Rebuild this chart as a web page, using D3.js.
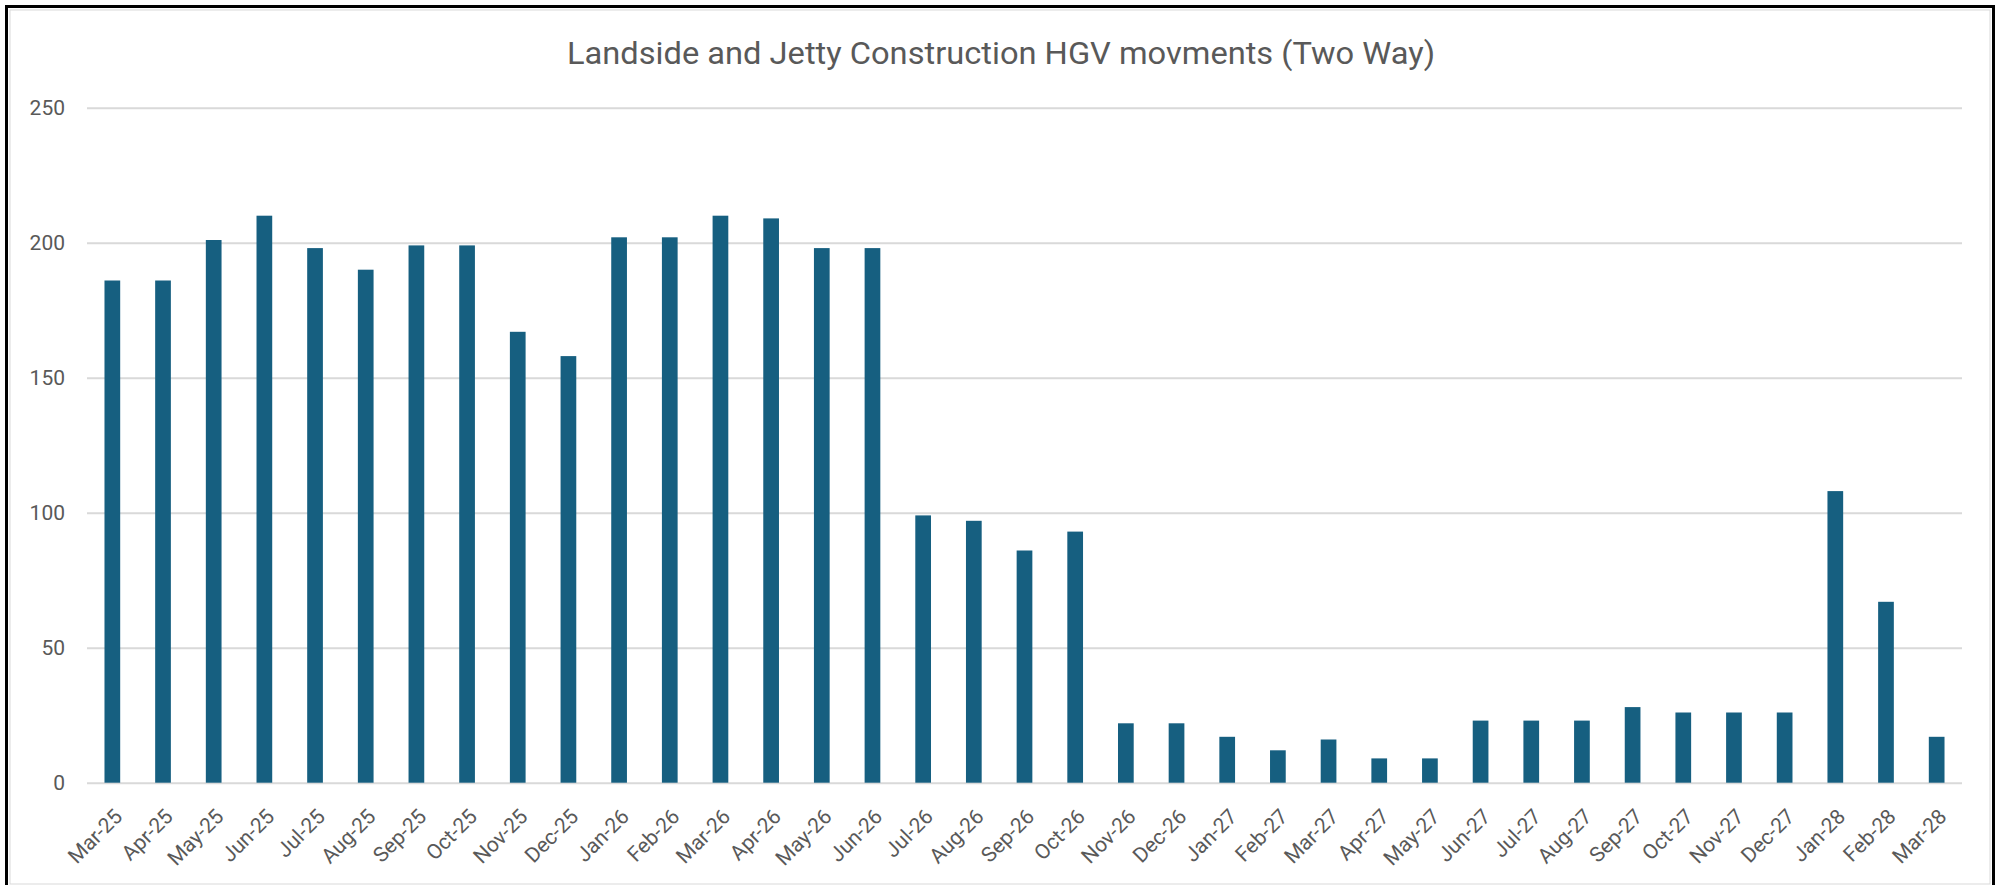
<!DOCTYPE html>
<html>
<head>
<meta charset="utf-8">
<script src="https://cdn.jsdelivr.net/npm/d3@7"></script>
<style>
  html, body { margin: 0; padding: 0; background: #fff; }
  svg { display: block; }
</style>
</head>
<body>
<div id="chart"></div>
<script>
// Chart data
const title = 'Landside and Jetty Construction HGV movments (Two Way)';

const months = [
    'Mar-25', 'Apr-25', 'May-25', 'Jun-25', 'Jul-25', 'Aug-25', 'Sep-25', 'Oct-25', 'Nov-25', 'Dec-25',
    'Jan-26', 'Feb-26', 'Mar-26', 'Apr-26', 'May-26', 'Jun-26', 'Jul-26', 'Aug-26', 'Sep-26', 'Oct-26',
    'Nov-26', 'Dec-26', 'Jan-27', 'Feb-27', 'Mar-27', 'Apr-27', 'May-27', 'Jun-27', 'Jul-27', 'Aug-27',
    'Sep-27', 'Oct-27', 'Nov-27', 'Dec-27', 'Jan-28', 'Feb-28', 'Mar-28'
];

const movements = [
    186, 186, 201, 210, 198, 190, 199, 199, 167, 158,
    202, 202, 210, 209, 198, 198, 99, 97, 86, 93,
    22, 22, 17, 12, 16, 9, 9, 23, 23, 23,
    28, 26, 26, 26, 108, 67, 17
];

const yTicks = [0, 50, 100, 150, 200, 250];

// Size
const width = 2000;
const height = 885;
const margin = {top: 107.7, right: 38, bottom: 102.3, left: 87};
const font = 'Roboto, "Open Sans", "DejaVu Sans", sans-serif';
const textColor = '#595959';

const svg = d3.select('#chart')
    .append('svg')
    .attr('width', width)
    .attr('height', height);

// Frame
svg.append('rect')
    .attr('x', 10).attr('y', 10)
    .attr('width', width - 20).attr('height', height - 11)
    .attr('fill', 'none')
    .attr('stroke', '#d9d9d9')
    .attr('stroke-width', 1);

svg.append('rect')
    .attr('x', 6.5).attr('y', 6.5)
    .attr('width', width - 13).attr('height', height + 10)
    .attr('fill', 'none')
    .attr('stroke', '#000')
    .attr('stroke-width', 3);

// Scales
const x = d3.scaleBand()
    .domain(months)
    .range([margin.left, width - margin.right])
    .paddingInner(0.69)
    .paddingOuter(0.345);

const y = d3.scaleLinear()
    .domain([0, 250])
    .range([height - margin.bottom, margin.top]);

// Gridlines and y labels
const yAxis = svg.append('g')
    .attr('transform', `translate(${margin.left},0)`)
    .call(d3.axisLeft(y)
        .tickValues(yTicks)
        .tickSize(-(width - margin.left - margin.right))
        .tickPadding(22));

yAxis.select('.domain').remove();
yAxis.selectAll('line')
    .attr('stroke', '#d9d9d9')
    .attr('stroke-width', 2);
yAxis.selectAll('text')
    .attr('fill', textColor)
    .style('font-family', font)
    .style('font-size', '21px');

// Bars
svg.append('g')
    .selectAll('rect')
    .data(months)
    .enter()
    .append('rect')
    .attr('x', (d, i) => x(d))
    .attr('y', (d, i) => y(movements[i]))
    .attr('width', x.bandwidth())
    .attr('height', (d, i) => y(0) - y(movements[i]))
    .attr('fill', '#165f80');

// X labels
const xAxis = svg.append('g')
    .attr('transform', `translate(0,${y(0)})`)
    .call(d3.axisBottom(x).tickSize(0).tickPadding(0));

xAxis.select('.domain').remove();
xAxis.selectAll('text')
    .attr('fill', textColor)
    .style('font-family', font)
    .style('font-size', '21px')
    .style('text-anchor', 'end')
    .attr('dy', '0.35em')
    .attr('y', 0)
    .attr('transform', 'translate(6,30) rotate(-45)');

// Title
svg.append('text')
    .attr('x', 1001)
    .attr('y', 64)
    .attr('text-anchor', 'middle')
    .attr('fill', textColor)
    .attr('textLength', 868)
    .attr('lengthAdjust', 'spacingAndGlyphs')
    .style('font-family', font)
    .style('font-size', '31px')
    .text(title);
</script>
</body>
</html>
